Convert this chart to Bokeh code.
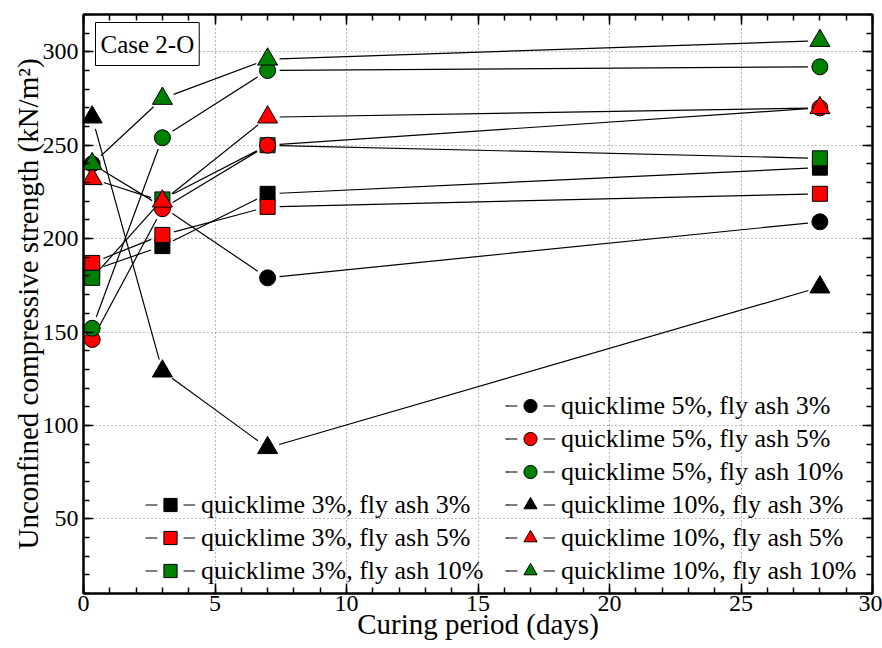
import math

from bokeh.plotting import figure
from bokeh.models import (Range1d, LinearAxis, SingleIntervalTicker, Legend,
                          LegendItem, Label, CustomJSTickFormatter)
from bokeh.embed import file_html
from bokeh.resources import INLINE

# Curing period (days) at which each mix was tested
curing_days = [0.33, 3, 7, 28]

# Unconfined compressive strength (kN/m^2) per mix
ql3_fa3 = [183, 196, 224, 238]
ql3_fa5 = [187, 202, 217, 224]
ql3_fa10 = [179, 221, 250, 243]
ql5_fa3 = [240, 217, 179, 209]
ql5_fa5 = [146, 216, 250, 270]
ql5_fa10 = [152, 254, 290, 292]
ql10_fa3 = [265, 129, 88, 174]
ql10_fa5 = [232, 220, 265, 270]
ql10_fa10 = [240, 275, 296, 306]

series_labels = [
    "quicklime 3%, fly ash 3%",
    "quicklime 3%, fly ash 5%",
    "quicklime 3%, fly ash 10%",
    "quicklime 5%, fly ash 3%",
    "quicklime 5%, fly ash 5%",
    "quicklime 5%, fly ash 10%",
    "quicklime 10%, fly ash 3%",
    "quicklime 10%, fly ash 5%",
    "quicklime 10%, fly ash 10%",
]
series_values = [ql3_fa3, ql3_fa5, ql3_fa10,
                 ql5_fa3, ql5_fa5, ql5_fa10,
                 ql10_fa3, ql10_fa5, ql10_fa10]

# marker shape follows the quicklime content, fill colour the fly ash content
MARKERS = {3: ("square", 15), 5: ("circle", 16), 10: ("triangle", 20)}
COLORS = {3: "black", 5: "red", 10: "#008000"}
mix_keys = [(3, 3), (3, 5), (3, 10), (5, 3), (5, 5), (5, 10), (10, 3), (10, 5), (10, 10)]

WIDTH, HEIGHT = 882, 648
BORDER_L, BORDER_R, BORDER_T, BORDER_B = 83, 10, 14, 55
X_START, X_END = 0, 30
Y_START, Y_END = 10, 320
FONT = "'Liberation Serif'"

p = figure(width=WIDTH, height=HEIGHT,
           x_range=Range1d(X_START, X_END), y_range=Range1d(Y_START, Y_END),
           output_backend="svg", toolbar_location=None,
           min_border_left=BORDER_L, min_border_right=BORDER_R,
           min_border_top=BORDER_T, min_border_bottom=BORDER_B,
           x_axis_label="Curing period (days)",
           y_axis_label="Unconfined compressive strength (kN/m²)")
p.background_fill_color = "white"
p.border_fill_color = "white"
p.outline_line_color = "black"
p.outline_line_width = 2

x_ticker = SingleIntervalTicker(interval=5, num_minor_ticks=5)
y_ticker = SingleIntervalTicker(interval=50, num_minor_ticks=5)


def style_axis(ax, ticker):
    ax.ticker = ticker
    ax.axis_line_color = "black"
    ax.axis_line_width = 2
    ax.major_tick_in = 10
    ax.major_tick_out = 0
    ax.minor_tick_in = 6
    ax.minor_tick_out = 0
    ax.major_tick_line_width = 1.5
    ax.minor_tick_line_width = 1.5
    ax.major_tick_line_color = "black"
    ax.minor_tick_line_color = "black"
    ax.major_label_text_font = FONT
    ax.major_label_text_font_size = "24px"
    ax.major_label_text_color = "black"
    ax.axis_label_text_font = FONT
    ax.axis_label_text_font_size = "29px"
    ax.axis_label_text_font_style = "normal"
    ax.axis_label_text_color = "black"


style_axis(p.xaxis[0], x_ticker)
style_axis(p.yaxis[0], y_ticker)
p.xaxis[0].major_label_standoff = 2
p.xaxis[0].axis_label_standoff = -6
p.yaxis[0].major_label_standoff = 5
p.yaxis[0].axis_label_standoff = -4

# tick-only mirror axes on the right and top
right_ax = LinearAxis()
style_axis(right_ax, y_ticker)
right_ax.formatter = CustomJSTickFormatter(code="return ''")
right_ax.major_label_text_font_size = "0px"
right_ax.major_label_standoff = 0
p.add_layout(right_ax, "right")

top_ax = LinearAxis()
style_axis(top_ax, x_ticker)
top_ax.formatter = CustomJSTickFormatter(code="return ''")
top_ax.major_label_text_font_size = "0px"
top_ax.major_label_standoff = 0
p.add_layout(top_ax, "above")

for g in (p.xgrid[0], p.ygrid[0]):
    g.grid_line_color = "#777777"
    g.grid_line_dash = "1 3"
    g.grid_line_width = 1

# connecting lines stop short of the markers
frame_w = WIDTH - BORDER_L - BORDER_R
frame_h = HEIGHT - BORDER_T - BORDER_B
ppx = frame_w / (X_END - X_START)
ppy = frame_h / (Y_END - Y_START)
GAP = 12


def gapped(xs, ys):
    x0, y0, x1, y1 = [], [], [], []
    for i in range(len(xs) - 1):
        ddx = xs[i + 1] - xs[i]
        ddy = ys[i + 1] - ys[i]
        f = GAP / math.hypot(ddx * ppx, ddy * ppy)
        x0.append(xs[i] + ddx * f)
        y0.append(ys[i] + ddy * f)
        x1.append(xs[i + 1] - ddx * f)
        y1.append(ys[i + 1] - ddy * f)
    return x0, y0, x1, y1


for vals in series_values:
    x0, y0, x1, y1 = gapped(curing_days, vals)
    p.segment(x0=x0, y0=y0, x1=x1, y1=y1, line_color="black", line_width=1.2)

NAN = float("nan")
items = []
for label, vals, (ql, fa) in zip(series_labels, series_values, mix_keys):
    marker, size = MARKERS[ql]
    r = p.scatter(curing_days, vals, marker=marker, size=size,
                  fill_color=COLORS[fa], line_color="black", line_width=1)
    # legend-only line key: "−●−" with a gap around the marker
    proxy = p.line(x=[NAN], y=[NAN], line_color="black", line_width=1.2,
                   line_dash="12 26")
    items.append(LegendItem(label=label, renderers=[proxy, r]))


def make_legend(its, loc):
    lg = Legend(items=its, location=loc, orientation="vertical",
                glyph_width=50, glyph_height=33, label_height=33,
                spacing=0, padding=0, margin=0, label_standoff=6,
                label_text_font=FONT, label_text_font_size="26px",
                label_text_color="black",
                background_fill_alpha=0, border_line_alpha=0)
    p.add_layout(lg)
    return lg


make_legend(items[:3], (62, 6))
make_legend(items[3:], (422, 6))

case_label = Label(x=(95 - BORDER_L) / ppx, y=Y_END - (22 - BORDER_T) / ppy,
                   text="Case 2-O", text_font=FONT, text_font_size="25px",
                   text_align="left", text_baseline="top", text_color="black",
                   border_line_color="black", border_line_width=1,
                   background_fill_color="white", padding=(5, 8))
p.add_layout(case_label)

open("out.html", "w").write(file_html(p, INLINE))
